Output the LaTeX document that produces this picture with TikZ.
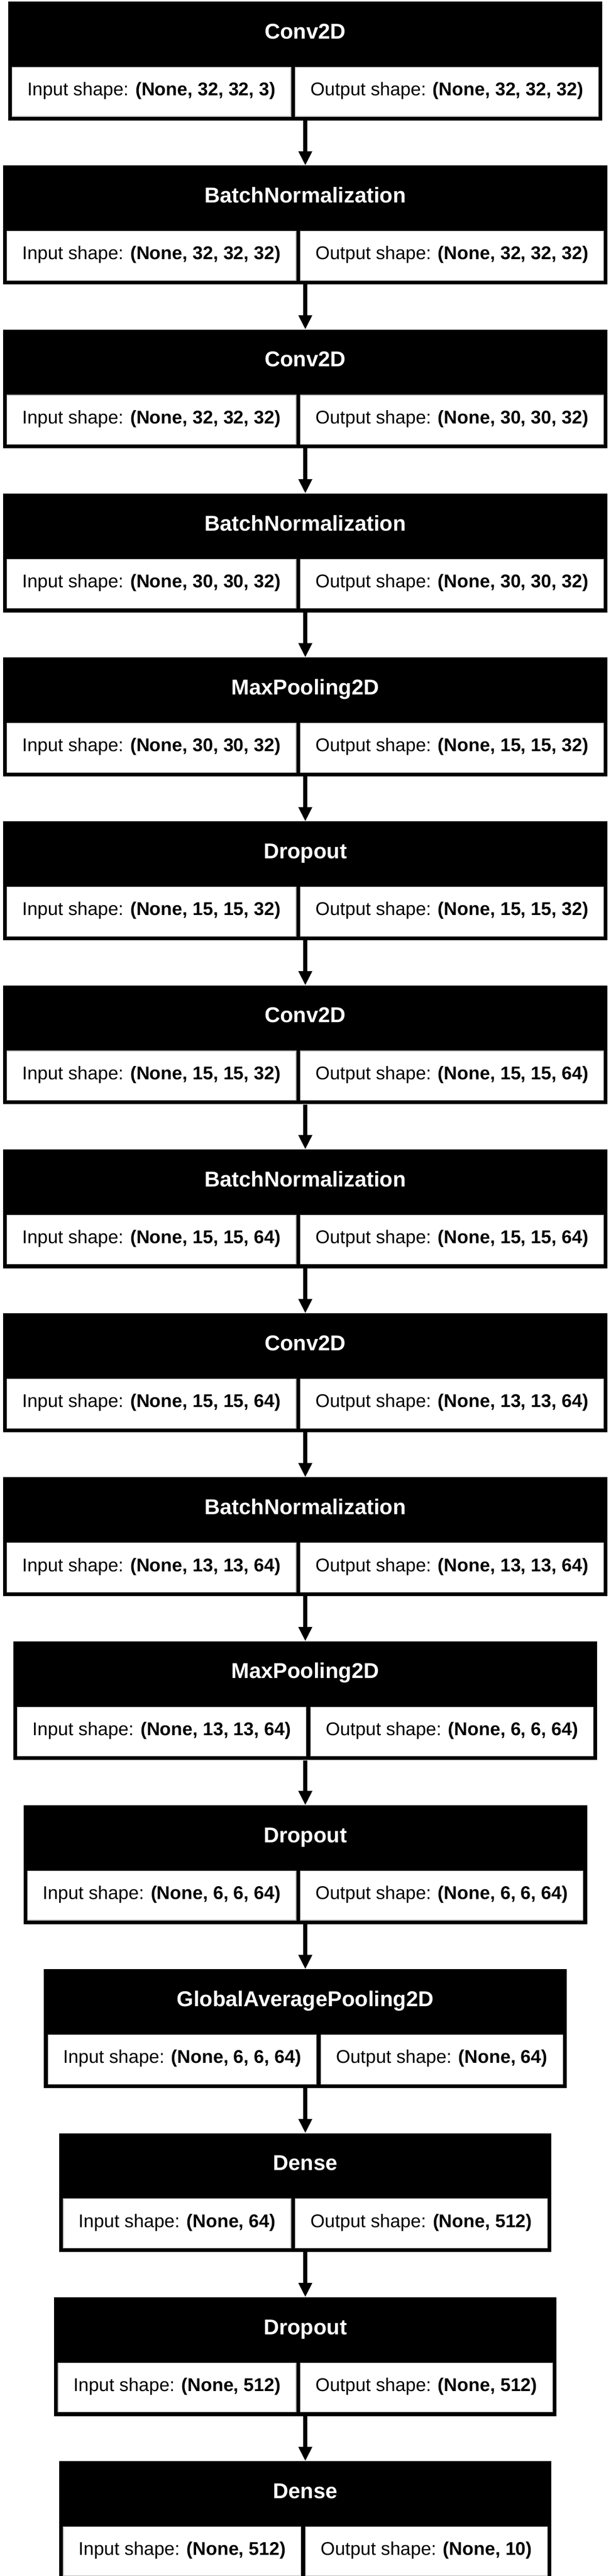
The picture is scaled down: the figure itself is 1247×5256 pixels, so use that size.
\documentclass[tikz,border=0pt]{standalone}
\usepackage{fontspec}
\setmainfont{Liberation Sans}
\usetikzlibrary{positioning,fit,backgrounds,arrows.meta}
\newcommand{\cellfont}{\fontsize{37.6pt}{45pt}\selectfont}
\newcommand{\namefont}{\fontsize{43.8pt}{52pt}\selectfont\bfseries}

\begin{document}
\begin{tikzpicture}[x=1pt,y=1pt,->,>={Triangle[length=29pt,width=26.5pt]},
    line width=7.8pt,node distance=232.86pt,
    cellrow/.style={column sep=7.8pt,inner sep=0pt,outer sep=0pt},
    shapecell/.style={fill=white,draw=gray!55,line width=1.2pt,inner xsep=31pt,inner ysep=0pt,
      text height=58pt,text depth=42.5pt,font=\cellfont},
    layername/.style={text=white,inner sep=0pt,text height=64.5pt,text depth=53.5pt,font=\namefont},
    layerbox/.style={fill=black,inner sep=7.5pt}]
  \useasboundingbox (0,0) rectangle (1247,-5256);

  \matrix[cellrow,anchor=north] (s1) at (623.5,-136.5) {
    \node[shapecell] (in1) {Input shape: \textbf{(None, 32, 32, 3)}}; &
    \node[shapecell] (out1) {Output shape: \textbf{(None, 32, 32, 32)}}; \\};
  \matrix[cellrow,below=of s1] (s2) {
    \node[shapecell] (in2) {Input shape: \textbf{(None, 32, 32, 32)}}; &
    \node[shapecell] (out2) {Output shape: \textbf{(None, 32, 32, 32)}}; \\};
  \matrix[cellrow,below=of s2] (s3) {
    \node[shapecell] (in3) {Input shape: \textbf{(None, 32, 32, 32)}}; &
    \node[shapecell] (out3) {Output shape: \textbf{(None, 30, 30, 32)}}; \\};
  \matrix[cellrow,below=of s3] (s4) {
    \node[shapecell] (in4) {Input shape: \textbf{(None, 30, 30, 32)}}; &
    \node[shapecell] (out4) {Output shape: \textbf{(None, 30, 30, 32)}}; \\};
  \matrix[cellrow,below=of s4] (s5) {
    \node[shapecell] (in5) {Input shape: \textbf{(None, 30, 30, 32)}}; &
    \node[shapecell] (out5) {Output shape: \textbf{(None, 15, 15, 32)}}; \\};
  \matrix[cellrow,below=of s5] (s6) {
    \node[shapecell] (in6) {Input shape: \textbf{(None, 15, 15, 32)}}; &
    \node[shapecell] (out6) {Output shape: \textbf{(None, 15, 15, 32)}}; \\};
  \matrix[cellrow,below=of s6] (s7) {
    \node[shapecell] (in7) {Input shape: \textbf{(None, 15, 15, 32)}}; &
    \node[shapecell] (out7) {Output shape: \textbf{(None, 15, 15, 64)}}; \\};
  \matrix[cellrow,below=of s7] (s8) {
    \node[shapecell] (in8) {Input shape: \textbf{(None, 15, 15, 64)}}; &
    \node[shapecell] (out8) {Output shape: \textbf{(None, 15, 15, 64)}}; \\};
  \matrix[cellrow,below=of s8] (s9) {
    \node[shapecell] (in9) {Input shape: \textbf{(None, 15, 15, 64)}}; &
    \node[shapecell] (out9) {Output shape: \textbf{(None, 13, 13, 64)}}; \\};
  \matrix[cellrow,below=of s9] (s10) {
    \node[shapecell] (in10) {Input shape: \textbf{(None, 13, 13, 64)}}; &
    \node[shapecell] (out10) {Output shape: \textbf{(None, 13, 13, 64)}}; \\};
  \matrix[cellrow,below=of s10] (s11) {
    \node[shapecell] (in11) {Input shape: \textbf{(None, 13, 13, 64)}}; &
    \node[shapecell] (out11) {Output shape: \textbf{(None, 6, 6, 64)}}; \\};
  \matrix[cellrow,below=of s11] (s12) {
    \node[shapecell] (in12) {Input shape: \textbf{(None, 6, 6, 64)}}; &
    \node[shapecell] (out12) {Output shape: \textbf{(None, 6, 6, 64)}}; \\};
  \matrix[cellrow,below=of s12] (s13) {
    \node[shapecell] (in13) {Input shape: \textbf{(None, 6, 6, 64)}}; &
    \node[shapecell] (out13) {Output shape: \textbf{(None, 64)}}; \\};
  \matrix[cellrow,below=of s13] (s14) {
    \node[shapecell] (in14) {Input shape: \textbf{(None, 64)}}; &
    \node[shapecell] (out14) {Output shape: \textbf{(None, 512)}}; \\};
  \matrix[cellrow,below=of s14] (s15) {
    \node[shapecell] (in15) {Input shape: \textbf{(None, 512)}}; &
    \node[shapecell] (out15) {Output shape: \textbf{(None, 512)}}; \\};
  \matrix[cellrow,below=of s15] (s16) {
    \node[shapecell] (in16) {Input shape: \textbf{(None, 512)}}; &
    \node[shapecell] (out16) {Output shape: \textbf{(None, 10)}}; \\};

  \node[layername,above=0pt of s1] (t1) {Conv2D};
  \node[layername,above=0pt of s2] (t2) {BatchNormalization};
  \node[layername,above=0pt of s3] (t3) {Conv2D};
  \node[layername,above=0pt of s4] (t4) {BatchNormalization};
  \node[layername,above=0pt of s5] (t5) {MaxPooling2D};
  \node[layername,above=0pt of s6] (t6) {Dropout};
  \node[layername,above=0pt of s7] (t7) {Conv2D};
  \node[layername,above=0pt of s8] (t8) {BatchNormalization};
  \node[layername,above=0pt of s9] (t9) {Conv2D};
  \node[layername,above=0pt of s10] (t10) {BatchNormalization};
  \node[layername,above=0pt of s11] (t11) {MaxPooling2D};
  \node[layername,above=0pt of s12] (t12) {Dropout};
  \node[layername,above=0pt of s13] (t13) {GlobalAveragePooling2D};
  \node[layername,above=0pt of s14] (t14) {Dense};
  \node[layername,above=0pt of s15] (t15) {Dropout};
  \node[layername,above=0pt of s16] (t16) {Dense};

  \begin{scope}[on background layer]
    \node[layerbox,fit=(t1)(s1)] (l1) {};
    \node[layerbox,fit=(t2)(s2)] (l2) {};
    \node[layerbox,fit=(t3)(s3)] (l3) {};
    \node[layerbox,fit=(t4)(s4)] (l4) {};
    \node[layerbox,fit=(t5)(s5)] (l5) {};
    \node[layerbox,fit=(t6)(s6)] (l6) {};
    \node[layerbox,fit=(t7)(s7)] (l7) {};
    \node[layerbox,fit=(t8)(s8)] (l8) {};
    \node[layerbox,fit=(t9)(s9)] (l9) {};
    \node[layerbox,fit=(t10)(s10)] (l10) {};
    \node[layerbox,fit=(t11)(s11)] (l11) {};
    \node[layerbox,fit=(t12)(s12)] (l12) {};
    \node[layerbox,fit=(t13)(s13)] (l13) {};
    \node[layerbox,fit=(t14)(s14)] (l14) {};
    \node[layerbox,fit=(t15)(s15)] (l15) {};
    \node[layerbox,fit=(t16)(s16)] (l16) {};
  \end{scope}

  \path (l1) edge (l2)
  (l2) edge (l3)
  (l3) edge (l4)
  (l4) edge (l5)
  (l5) edge (l6)
  (l6) edge (l7)
  (l7) edge (l8)
  (l8) edge (l9)
  (l9) edge (l10)
  (l10) edge (l11)
  (l11) edge (l12)
  (l12) edge (l13)
  (l13) edge (l14)
  (l14) edge (l15)
  (l15) edge (l16);
\end{tikzpicture}
\end{document}
